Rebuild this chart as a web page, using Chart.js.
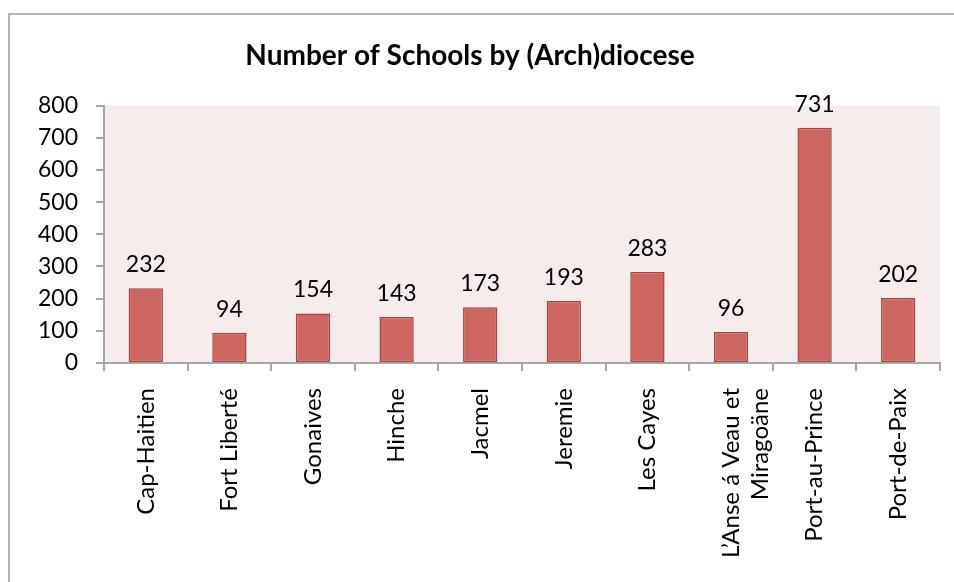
<!DOCTYPE html>
<html>
<head>
<meta charset="utf-8">
<script src="https://cdn.jsdelivr.net/npm/chart.js@4"></script>
<style>
  html, body { margin: 0; padding: 0; background: #fff; }
  #wrap { width: 954px; height: 582px; }
</style>
</head>
<body>
<div id="wrap"><canvas id="schools-chart" width="954" height="582"></canvas></div>
<script>
// values
const dioceses = [
    'Cap-Haitien', 'Fort Liberté', 'Gonaives', 'Hinche', 'Jacmel', 'Jeremie',
    'Les Cayes', ['L\u2019Anse á Veau et', 'Miragoäne'], 'Port-au-Prince', 'Port-de-Paix'
];
const schoolCounts = [232, 94, 154, 143, 173, 193, 283, 96, 731, 202];
const yTicks = [0, 100, 200, 300, 400, 500, 600, 700, 800];

const axisGray = '#a6a6a6';
const fontFamily = 'Lato, "Open Sans", sans-serif';

// frame round the chart and pink plot area
const backdrop = {
    id: 'backdrop',
    beforeDraw(chart) {
        const ctx = chart.ctx;
        const area = chart.chartArea;
        ctx.save();
        ctx.strokeStyle = '#b3b3b3';
        ctx.lineWidth = 2;
        ctx.beginPath();
        ctx.moveTo(9, chart.height);
        ctx.lineTo(9, 14);
        ctx.lineTo(chart.width, 14);
        ctx.stroke();
        ctx.fillStyle = '#f5eceb';
        ctx.fillRect(area.left, area.top, area.right - area.left, area.bottom - area.top);
        ctx.restore();
    }
};

// value above each bar
const barLabels = {
    id: 'barLabels',
    afterDatasetsDraw(chart) {
        const ctx = chart.ctx;
        const meta = chart.getDatasetMeta(0);
        ctx.save();
        ctx.font = '23px ' + fontFamily;
        ctx.fillStyle = '#000';
        ctx.textAlign = 'center';
        ctx.textBaseline = 'alphabetic';
        meta.data.forEach((bar, i) => {
            ctx.fillText(String(schoolCounts[i]), bar.x, bar.y - 16);
        });
        ctx.restore();
    }
};

const ctx = document.getElementById('schools-chart');
new Chart(ctx, {
    type: 'bar',
    data: {
        labels: dioceses,
        datasets: [{
            data: schoolCounts,
            backgroundColor: '#cd6661',
            borderColor: '#a5433f',
            borderWidth: 1.5,
            borderSkipped: false,
            categoryPercentage: 1,
            barPercentage: 0.41
        }]
    },
    options: {
        responsive: false,
        animation: false,
        layout: { padding: { left: 0, right: 14, top: 0, bottom: 0 } },
        plugins: {
            legend: { display: false },
            tooltip: { enabled: false },
            title: {
                display: true,
                text: 'Number of Schools by (Arch)diocese',
                color: '#000',
                font: { family: fontFamily, size: 28, weight: 'bold' },
                padding: { top: 39, bottom: 33 }
            }
        },
        scales: {
            x: {
                afterFit: s => { s.height = 219; },
                border: { display: true, color: axisGray, width: 2 },
                grid: { display: true, drawOnChartArea: false, drawTicks: true, tickLength: 8, color: axisGray, lineWidth: 2, offset: true },
                ticks: {
                    color: '#000',
                    font: { family: fontFamily, size: 24 },
                    minRotation: 90,
                    maxRotation: 90,
                    autoSkip: false,
                    padding: 17
                }
            },
            y: {
                min: 0,
                max: 800,
                afterFit: s => { s.width = 104; },
                afterBuildTicks: s => { s.ticks = yTicks.map(v => ({ value: v })); },
                border: { display: true, color: axisGray, width: 2 },
                grid: { display: true, drawOnChartArea: false, drawTicks: true, tickLength: 8, color: axisGray, lineWidth: 2 },
                ticks: {
                    color: '#000',
                    font: { family: fontFamily, size: 23 },
                    padding: 18
                }
            }
        }
    },
    plugins: [backdrop, barLabels]
});
</script>
</body>
</html>
